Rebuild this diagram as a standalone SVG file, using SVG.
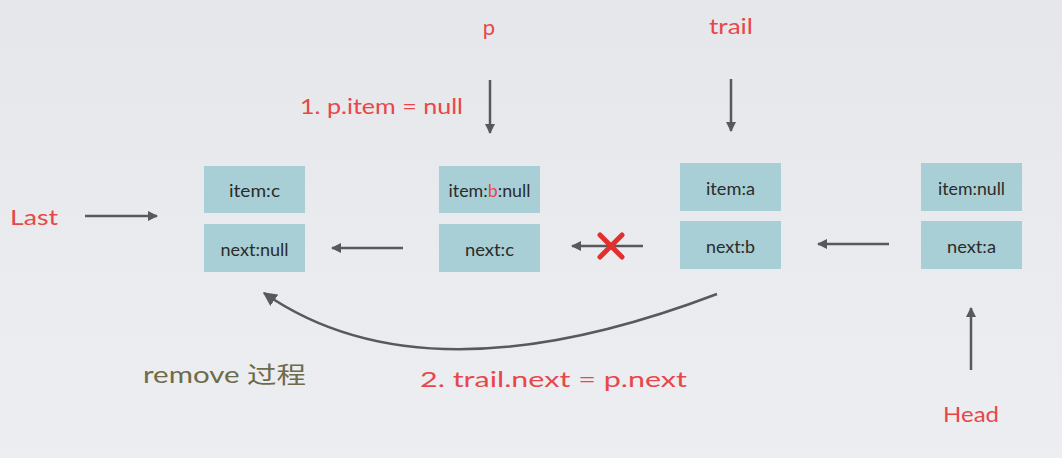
<svg xmlns="http://www.w3.org/2000/svg" width="1062" height="458" viewBox="0 0 1062 458">
<defs>
<linearGradient id="bg" x1="0" y1="0" x2="0" y2="1">
<stop offset="0" stop-color="#e6e7ea"/>
<stop offset="1" stop-color="#eceef1"/>
</linearGradient>
<marker id="ah" viewBox="0 0 10 10" refX="9" refY="5" markerWidth="10" markerHeight="10" markerUnits="userSpaceOnUse" orient="auto">
<path d="M0,0 L10,5 L0,10 Z" fill="#555a5c"/>
</marker>
<marker id="ah2" viewBox="0 0 10 10" refX="9" refY="5" markerWidth="14" markerHeight="14" markerUnits="userSpaceOnUse" orient="auto">
<path d="M0,0 L10,5 L0,10 Z" fill="#555a5c"/>
</marker>
</defs>
<style>
.box{fill:#a8cfd5;}
.bt{font-family:"Lato","Liberation Sans",sans-serif;font-size:17px;fill:#2b2b2b;text-anchor:middle;}
.red{font-family:"Lato","Liberation Sans",sans-serif;fill:#e8474a;}
.ln{stroke:#555a5c;stroke-width:2.5;fill:none;}
</style>
<rect width="1062" height="458" fill="url(#bg)"/>

<g id="node-c">
<rect class="box" x="204" y="166" width="101" height="47"/>
<rect class="box" x="204" y="224" width="101" height="48"/>
<text class="bt" x="254.5" y="197" textLength="51" lengthAdjust="spacingAndGlyphs">item:c</text>
<text class="bt" x="254.5" y="256" textLength="68" lengthAdjust="spacingAndGlyphs">next:null</text>
</g>
<g id="node-b">
<rect class="box" x="439" y="166" width="101" height="47"/>
<rect class="box" x="439" y="224" width="101" height="48"/>
<text class="bt" x="489.5" y="197" textLength="82" lengthAdjust="spacingAndGlyphs">item:<tspan fill="#e8474a">b</tspan>:null</text>
<text class="bt" x="489.5" y="256" textLength="49" lengthAdjust="spacingAndGlyphs">next:c</text>
</g>
<g id="node-a">
<rect class="box" x="680" y="163" width="101" height="48"/>
<rect class="box" x="680" y="221" width="101" height="48"/>
<text class="bt" x="730.5" y="195" textLength="49" lengthAdjust="spacingAndGlyphs">item:a</text>
<text class="bt" x="730.5" y="253" textLength="49" lengthAdjust="spacingAndGlyphs">next:b</text>
</g>
<g id="node-head">
<rect class="box" x="921" y="163" width="101" height="48"/>
<rect class="box" x="921" y="221" width="101" height="48"/>
<text class="bt" x="971.5" y="195" textLength="67" lengthAdjust="spacingAndGlyphs">item:null</text>
<text class="bt" x="971.5" y="253" textLength="49" lengthAdjust="spacingAndGlyphs">next:a</text>
</g>

<g id="labels">
<text class="red" x="489" y="35" font-size="22" text-anchor="middle">p</text>
<text class="red" x="731" y="34" font-size="22" text-anchor="middle" textLength="44" lengthAdjust="spacingAndGlyphs">trail</text>
<text class="red" x="463" y="114" font-size="22" text-anchor="end" textLength="163" lengthAdjust="spacingAndGlyphs">1. p.item = null</text>
<text class="red" x="10" y="225" font-size="22" textLength="48" lengthAdjust="spacingAndGlyphs">Last</text>
<text class="red" x="943" y="422" font-size="22" textLength="56" lengthAdjust="spacingAndGlyphs">Head</text>
<text x="143" y="383" font-family="Lato,'Liberation Sans','Noto Sans CJK SC',sans-serif" font-size="23" fill="#6d6b4b" textLength="163" lengthAdjust="spacingAndGlyphs">remove 过程</text>
<text class="red" x="420" y="387" font-size="22" textLength="267" lengthAdjust="spacingAndGlyphs">2. trail.next = p.next</text>
</g>

<g id="connectors">
<line class="ln" x1="85" y1="216" x2="157" y2="216" marker-end="url(#ah)"/>
<line class="ln" x1="490" y1="80" x2="490" y2="133" marker-end="url(#ah)"/>
<line class="ln" x1="731" y1="79" x2="731" y2="131" marker-end="url(#ah)"/>
<line class="ln" x1="971" y1="370" x2="971" y2="308" marker-end="url(#ah)"/>
<line class="ln" x1="403" y1="248" x2="332" y2="248" marker-end="url(#ah)"/>
<line class="ln" x1="643" y1="246" x2="572" y2="246" marker-end="url(#ah)"/>
<line class="ln" x1="889" y1="244" x2="818" y2="244" marker-end="url(#ah)"/>
<path class="ln" d="M717,294 Q425,405 264,293" marker-end="url(#ah2)"/>
<path d="M600,235 L622,257 M622,235 L600,257" stroke="#e2302d" stroke-width="5" stroke-linecap="round"/>
</g>
</svg>
